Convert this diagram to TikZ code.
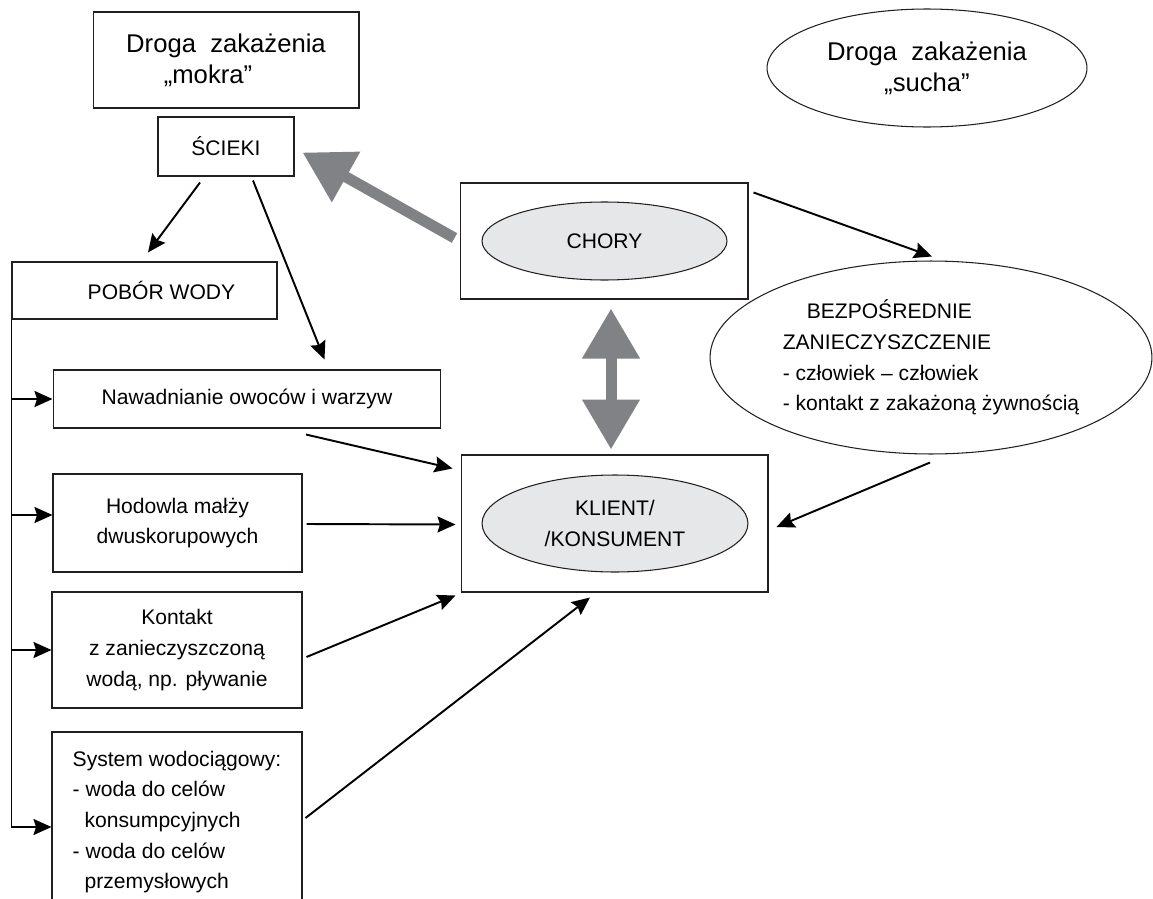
\documentclass[tikz,border=0pt]{standalone}
\usepackage{fontspec}
\setmainfont{Liberation Sans}
\usepackage{tikz}
\usetikzlibrary{arrows.meta,calc,shapes.geometric}
\definecolor{ramka}{HTML}{231F20}
\definecolor{szary}{HTML}{808285}
\definecolor{jasny}{HTML}{E6E7E8}

\begin{document}
\begin{tikzpicture}[x=0.02cm,y=-0.02cm,
  pole/.style={draw=ramka,line width=0.6pt,inner sep=0pt,align=center,font=\fontsize{12}{17.4}\selectfont},
  owal/.style={ellipse,draw=ramka,line width=0.6pt,inner sep=0pt,align=center,font=\fontsize{12}{17.4}\selectfont},
  duzy/.style={font=\fontsize{14.6}{17.6}\selectfont},
  strz/.style={-{Stealth[length=0.36cm,width=0.32cm,inset=0.05cm]},line width=1.1pt,black},
  gruba/.style={-{Triangle[length=1cm,width=1.1cm]},line width=0.22cm,szary}]
\clip (0,0) rectangle (1153,899);
% droga mokra
\node[pole,duzy,minimum width=5.32cm,minimum height=1.92cm] (mokra) at (226,60) {Droga~~zakażenia\\„mokra”\hspace*{0.72cm}};
\node[pole,minimum width=2.72cm,minimum height=1.18cm] (scieki) at (226,146.5) {ŚCIEKI};
\node[pole,minimum width=5.3cm,minimum height=1.14cm] (pobor) at (144.5,290.5) {\hspace*{0.68cm}POBÓR WODY};
\node[pole,minimum width=7.76cm,minimum height=1.16cm] (nawad) at (247,399) {Nawadnianie owoców i warzyw};
\node[pole,minimum width=4.98cm,minimum height=1.96cm] (hodowla) at (177.5,523) {Hodowla małży\\dwuskorupowych};
\node[pole,minimum width=5cm,minimum height=2.32cm] (kontakt) at (177,650) {Kontakt\\z zanieczyszczoną\\wodą, np. pływanie};
\node[pole,minimum width=5cm,minimum height=3.6cm,align=left] (system) at (177,822) {System wodociągowy:\\- woda do celów\\\hspace*{0.24cm}konsumpcyjnych\\- woda do celów\\\hspace*{0.24cm}przemysłowych};
% droga sucha
\node[owal,duzy,minimum width=6.4cm,minimum height=2.36cm] (sucha) at (927,68) {Droga~~zakażenia\\„sucha”};
\node[pole,minimum width=5.76cm,minimum height=2.32cm] (chorybox) at (604,241) {};
\node[owal,fill=jasny,minimum width=4.9cm,minimum height=1.56cm] (chory) at (604.5,241) {CHORY};
\node[pole,minimum width=6.14cm,minimum height=2.74cm] (klientbox) at (614.5,523.5) {};
\node[owal,fill=jasny,minimum width=5.32cm,minimum height=1.94cm] (klient) at (615,523.5) {KLIENT/\\/KONSUMENT};
\node[owal,align=left,minimum width=8.84cm,minimum height=3.86cm] (bezp) at (931,357.5) {\hspace*{0.48cm}BEZPOŚREDNIE\\ZANIECZYSZCZENIE\\- człowiek – człowiek\\- kontakt z zakażoną żywnością};

% strzalki
\draw[strz] ($(scieki.south)+(-26,6)$) -- ($(pobor.north)+(3.5,-9)$);
\draw[strz] ($(scieki.south)+(27,4)$) -- ($(nawad.north)+(77.5,-10)$);
\draw[strz] (pobor.south west) |- ($(system.west)+(0,5)$);
\draw[strz] (pobor.south west |- nawad.west) -- (nawad.west);
\draw[strz] ($(pobor.south west |- hodowla.west)+(0,-8)$) -- ($(hodowla.west)+(0,-8)$);
\draw[strz] (pobor.south west |- kontakt.west) -- (kontakt.west);
\draw[strz] ($(nawad.south)+(59,6)$) -- ($(klientbox.north west)+(-8,14)$);
\draw[strz] ($(hodowla.east)+(4,1)$) -- ($(klientbox.west)+(-5,1)$);
\draw[strz] ($(kontakt.east)+(4,7)$) -- ($(klientbox.south west)+(-5,3)$);
\draw[strz] ($(system.east)+(3,-4)$) -- ($(klientbox.south)+(-24.5,5)$);
\draw[strz] ($(chorybox.north east)+(5,10)$) -- ($(bezp.north)+(1,-4)$);
\draw[strz] ($(bezp.south)+(-1,8)$) -- ($(klientbox.east)+(8,3.5)$);
\draw[gruba] ($(chorybox.west)+(-5,-3)$) -- ($(scieki.east)+(8,6)$);
\draw[gruba,{Triangle[length=1cm,width=1.1cm]}-{Triangle[length=1cm,width=1.1cm]}] ($(chorybox.south)+(7,9)$) -- ($(klientbox.north)+(-3.5,-5)$);
\end{tikzpicture}
\end{document}
